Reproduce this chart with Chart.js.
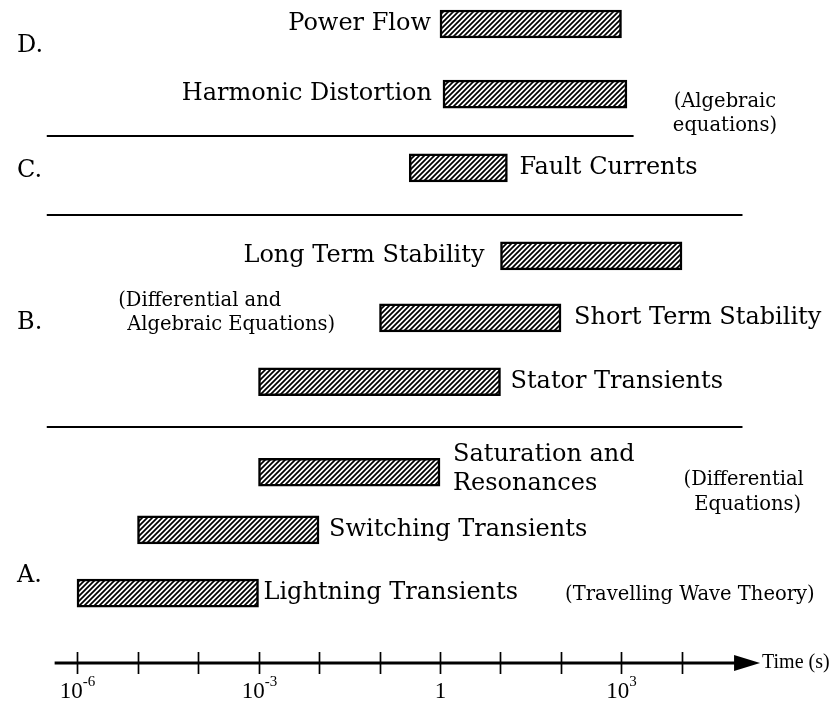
<!DOCTYPE html>
<html>
<head>
<meta charset="utf-8">
<script src="https://cdn.jsdelivr.net/npm/chart.js@4.4.1/dist/chart.umd.min.js"></script>
<style>
    html, body { margin: 0; padding: 0; background: #fff; }
    canvas { display: block; }
</style>
</head>
<body>
<canvas id="time-scale-chart" width="831" height="702"></canvas>
<script>
// Studies and the time ranges (seconds) each one covers
const studies = [
    'Power Flow', 'Harmonic Distortion', 'Fault Currents',
    'Long Term Stability', 'Short Term Stability', 'Stator Transients',
    ['Saturation and', 'Resonances'], 'Switching Transients', 'Lightning Transients'
];
const startTimes = [1, 1.12, 0.31, 10, 0.1, 1e-3, 1e-3, 1e-5, 1e-6];
const endTimes = [1e3, 1.23e3, 13, 1e4, 1e2, 10, 1, 1e-2, 1e-3];

// Decade ticks on the time axis, labels only on every third one
const tickExponents = [-6, -5, -4, -3, -2, -1, 0, 1, 2, 3, 4];
const tickLabels = ['10|-6', '', '', '10|-3', '', '', '1', '', '', '10|3', ''];

// Group letters and the notes on the model used for each group
const groupLetters = ['D.', 'C.', 'B.', 'A.'];
const groupNotes = [
    ['(Algebraic', 'equations)'],
    ['(Differential and', 'Algebraic Equations)'],
    ['(Differential', 'Equations)'],
    ['(Travelling Wave Theory)']
];
const axisTitle = 'Time (s)';

// Layout (row units on the y scale, log10 seconds on the x scale)
const rowPos = [0, 1.13, 2.32, 3.74, 4.74, 5.77, 7.23, 8.16, 9.18];
const labelSide = ['left', 'left', 'right', 'left', 'right', 'right', 'right', 'right', 'right'];
const labelGap = [9, 11, 12, 16, 13, 10, 13, 10, 5];
const letterRows = [0.355, 2.37, 4.82, 8.9];
const dividers = [
    { row: 1.806, from: -6.5, to: 3.2 },
    { row: 3.08, from: -6.5, to: 5.0 },
    { row: 6.5, from: -6.5, to: 5.0 }
];
const notePos = [
    { x: 4.71, row: 1.258, align: 'center', lines: [0, 0.387] },
    { x: -5.32, row: 4.47, align: 'left', lines: [0, 0.387], indent: [0, 9] },
    { x: 5.02, row: 7.355, align: 'center', lines: [0, 0.40], indent: [0, 4] },
    { x: 4.13, row: 9.21, align: 'center', lines: [0] }
];
const axisRow = 10.31;
const serif = '"DejaVu Serif", "Liberation Serif", serif';
const axisFont = '"Liberation Serif", "DejaVu Serif", serif';

function makeHatch() {
    const c = document.createElement('canvas');
    c.width = 5;
    c.height = 5;
    const g = c.getContext('2d');
    g.fillStyle = '#fff';
    g.fillRect(0, 0, 5, 5);
    g.strokeStyle = '#000';
    g.lineWidth = 1.7;
    g.beginPath();
    for (let k = -1; k <= 1; k++) {
        g.moveTo(k * 5 - 1, 6);
        g.lineTo(k * 5 + 6, -1);
    }
    g.stroke();
    return g.createPattern(c, 'repeat');
}

const annotations = {
    id: 'annotations',
    afterDatasetsDraw(chart) {
        const { ctx } = chart;
        const xs = chart.scales.x;
        const ys = chart.scales.y;
        const px = e => xs.getPixelForValue(Math.pow(10, e));
        ctx.save();
        ctx.fillStyle = '#000';
        ctx.strokeStyle = '#000';

        // labels beside each bar
        ctx.font = '24px ' + serif;
        ctx.textBaseline = 'middle';
        const meta = chart.getDatasetMeta(0);
        meta.data.forEach((bar, i) => {
            const left = Math.min(bar.x, bar.base);
            const right = Math.max(bar.x, bar.base);
            const lines = Array.isArray(studies[i]) ? studies[i] : [studies[i]];
            if (labelSide[i] === 'left') {
                ctx.textAlign = 'right';
                ctx.fillText(lines[0], left - labelGap[i], bar.y);
            } else {
                ctx.textAlign = 'left';
                if (lines.length > 1) {
                    ctx.fillText(lines[0], right + labelGap[i], bar.y - 18);
                    ctx.fillText(lines[1], right + labelGap[i], bar.y + 11);
                } else {
                    ctx.fillText(lines[0], right + labelGap[i], bar.y);
                }
            }
        });

        // group letters
        ctx.textAlign = 'left';
        groupLetters.forEach((t, i) => ctx.fillText(t, 17, ys.getPixelForValue(letterRows[i])));

        // dividers between groups
        ctx.lineWidth = 2;
        dividers.forEach(d => {
            const y = Math.round(ys.getPixelForValue(d.row));
            ctx.beginPath();
            ctx.moveTo(px(d.from), y);
            ctx.lineTo(px(d.to), y);
            ctx.stroke();
        });

        // notes
        ctx.font = '19.5px ' + serif;
        groupNotes.forEach((lines, i) => {
            const p = notePos[i];
            ctx.textAlign = p.align;
            lines.forEach((t, j) => {
                const dx = p.indent ? p.indent[j] : 0;
                ctx.fillText(t, px(p.x) + dx, ys.getPixelForValue(p.row + p.lines[j]));
            });
        });

        // time axis with arrow
        const ay = Math.round(ys.getPixelForValue(axisRow));
        const x0 = px(-6.37);
        const xEnd = px(5.29);
        ctx.lineWidth = 3;
        ctx.beginPath();
        ctx.moveTo(x0, ay);
        ctx.lineTo(xEnd - 20, ay);
        ctx.stroke();
        ctx.beginPath();
        ctx.moveTo(xEnd, ay);
        ctx.lineTo(xEnd - 26, ay - 8);
        ctx.lineTo(xEnd - 26, ay + 8);
        ctx.closePath();
        ctx.fill();

        ctx.lineWidth = 1.7;
        tickExponents.forEach((e, i) => {
            const x = Math.round(px(e)) + 0.5;
            ctx.beginPath();
            ctx.moveTo(x, ay - 11);
            ctx.lineTo(x, ay + 11);
            ctx.stroke();
            if (!tickLabels[i]) return;
            const [base, sup] = tickLabels[i].split('|');
            ctx.font = '23px ' + axisFont;
            const bw = ctx.measureText(base).width;
            ctx.font = '15px ' + axisFont;
            const sw = sup ? ctx.measureText(sup).width : 0;
            const start = x - (bw + sw) / 2;
            ctx.textAlign = 'left';
            ctx.font = '23px ' + axisFont;
            ctx.fillText(base, start, ay + 29);
            if (sup) {
                ctx.font = '15px ' + axisFont;
                ctx.fillText(sup, start + bw, ay + 19);
            }
        });

        ctx.font = '20px ' + axisFont;
        ctx.textAlign = 'left';
        ctx.fillText(axisTitle, xEnd + 2, ay);
        ctx.restore();
    }
};

const ctx = document.getElementById('time-scale-chart').getContext('2d');
new Chart(ctx, {
    type: 'bar',
    data: {
        datasets: [{
            data: studies.map((s, i) => ({ x: [startTimes[i], endTimes[i]], y: rowPos[i] })),
            backgroundColor: makeHatch(),
            borderColor: '#000',
            borderWidth: 2.5,
            borderSkipped: false,
            barThickness: 28
        }]
    },
    options: {
        indexAxis: 'y',
        responsive: false,
        animation: false,
        devicePixelRatio: 1,
        layout: { padding: 0 },
        plugins: { legend: { display: false }, tooltip: { enabled: false } },
        scales: {
            x: { type: 'logarithmic', display: false, offset: false, min: Math.pow(10, -7.273), max: Math.pow(10, 6.463) },
            y: { type: 'linear', display: false, offset: false, reverse: true, min: -0.387, max: 10.935 }
        }
    },
    plugins: [annotations]
});
</script>
</body>
</html>
